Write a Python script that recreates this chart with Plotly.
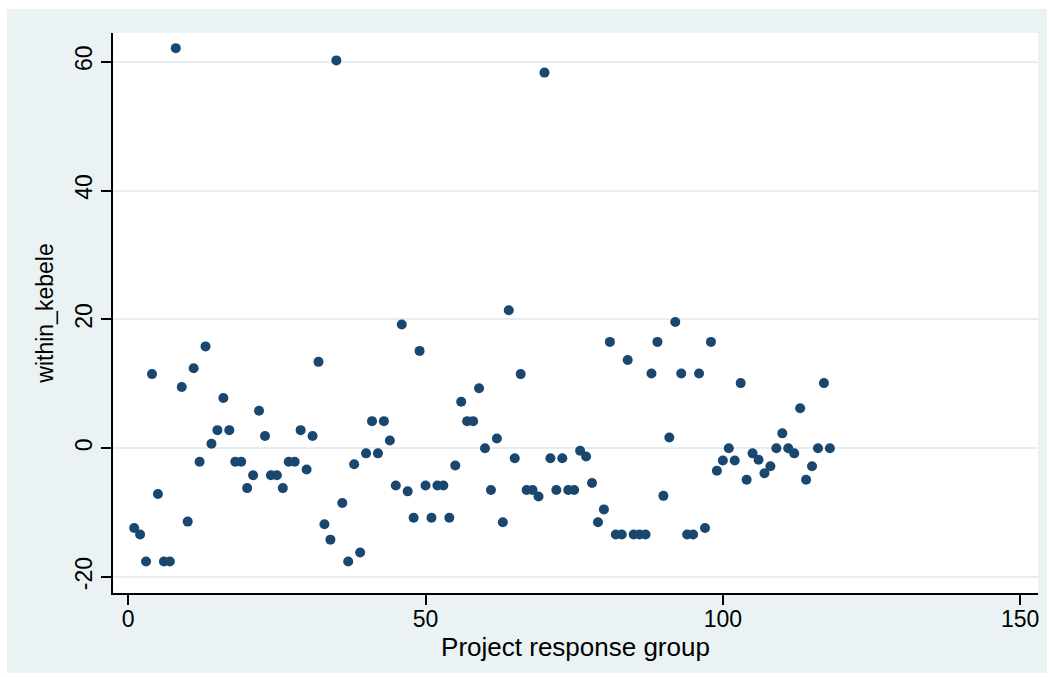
import plotly.graph_objects as go

# Project response group (x) and within_kebele (y)
group = list(range(1, 119))
within_kebele = [
    -12.4, -13.4, -17.6, 11.5, -7.1, -17.6, -17.6, 62.1, 9.5, -11.4,
    12.4, -2.1, 15.8, 0.7, 2.8, 7.8, 2.8, -2.1, -2.1, -6.2,
    -4.2, 5.8, 1.9, -4.2, -4.2, -6.2, -2.1, -2.1, 2.8, -3.3,
    1.9, 13.4, -11.8, -14.2, 60.2, -8.5, -17.6, -2.5, -16.2, -0.8,
    4.2, -0.8, 4.2, 1.2, -5.8, 19.2, -6.7, -10.8, 15.1, -5.8,
    -10.8, -5.8, -5.8, -10.8, -2.7, 7.2, 4.2, 4.2, 9.3, 0.0,
    -6.5, 1.5, -11.5, 21.4, -1.55, 11.5, -6.5, -6.5, -7.5, 58.3,
    -1.55, -6.5, -1.55, -6.5, -6.5, -0.4, -1.3, -5.4, -11.5, -9.5,
    16.5, -13.4, -13.4, 13.7, -13.4, -13.4, -13.4, 11.6, 16.5, -7.4,
    1.65, 19.6, 11.6, -13.4, -13.4, 11.6, -12.4, 16.5, -3.5, -1.9,
    0.0, -1.9, 10.1, -4.9, -0.8, -1.8, -3.9, -2.8, 0.0, 2.3,
    0.0, -0.8, 6.2, -4.9, -2.8, 0.0, 10.1, 0.0,
]
x_ticks = [0, 50, 100, 150]
y_ticks = [-20, 0, 20, 40, 60]

FONT = "Liberation Sans Narrow, Arial Narrow, Liberation Sans, Arial, sans-serif"
BG = "#EAF2F3"
NAVY = "#1a476f"

fig = go.Figure(
    go.Scatter(
        x=group, y=within_kebele, mode="markers",
        marker=dict(color=NAVY, size=10, line=dict(width=0)),
        hoverinfo="x+y",
    )
)

W, H = 1051, 677
L, R, T, B = 113, 13, 33, 84
pw, ph = W - L - R, H - T - B

def px(xp):
    return (xp - L) / pw

def py(yp):
    return (H - B - yp) / ph

shapes = []
# white outer frame around the light background
for (x0, y0, x1, y1) in [(0, 0, 7, H), (1047, 0, W, H), (0, 0, W, 9), (0, 673, W, H)]:
    shapes.append(dict(type="rect", xref="paper", yref="paper",
                       x0=px(x0), x1=px(x1), y0=py(y1), y1=py(y0),
                       fillcolor="white", line=dict(width=0), layer="below"))

fig.update_layout(
    width=W, height=H,
    margin=dict(l=L, r=R, t=T, b=B, pad=0),
    paper_bgcolor=BG,
    plot_bgcolor="white",
    showlegend=False,
    font=dict(family=FONT, color="black", size=22),
    shapes=shapes,
    xaxis=dict(
        range=[-2.56, 153.0], tickvals=x_ticks, ticktext=[str(v) for v in x_ticks],
        showgrid=False, zeroline=False,
        showline=True, linecolor="black", linewidth=2,
        ticks="outside", ticklen=10, tickwidth=2, tickcolor="black",
        tickfont=dict(size=23, family=FONT),
        ticklabelstandoff=-6,
        title=dict(text="Project response group", font=dict(size=26, family=FONT), standoff=0),
    ),
    yaxis=dict(
        range=[-22.48, 64.45], tickvals=y_ticks, ticktext=[str(v) for v in y_ticks],
        showgrid=True, gridcolor="#E6EEF2", gridwidth=2, zeroline=False,
        showline=True, linecolor="black", linewidth=2,
        ticks="outside", ticklen=10, tickwidth=2, tickcolor="black",
        tickangle=-90,
        tickfont=dict(size=23, family=FONT),
        title=dict(text="within_kebele", font=dict(size=23, family=FONT), standoff=11),
    ),
)

fig.write_html("out.html", config={"displayModeBar": False},
               post_script="document.body.style.margin='0';")
